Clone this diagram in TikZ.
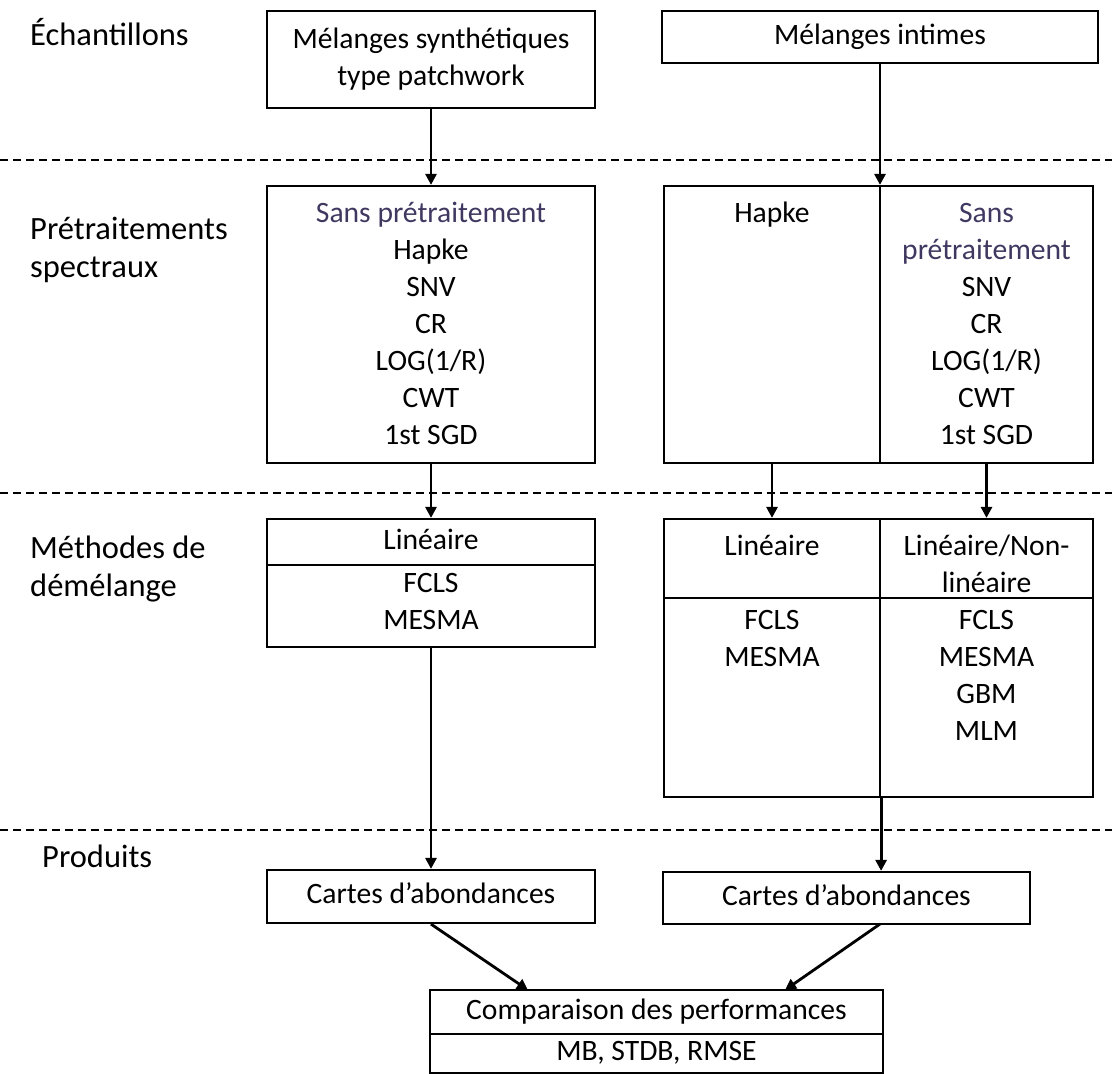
\documentclass[tikz,border=0pt]{standalone}
\usepackage{fontspec}
\setmainfont{Carlito}
\usetikzlibrary{arrows.meta}
\definecolor{sanscol}{RGB}{64,56,96}
\begin{document}
\begin{tikzpicture}[x=1bp,y=-1bp,
  every node/.style={font=\fontsize{29.6bp}{37bp}\selectfont},
  box/.style={draw,line width=2.2bp,inner sep=0pt},
  txt/.style={inner sep=0pt,align=center},
  lbl/.style={inner sep=0pt,align=left,anchor=west,font=\fontsize{32.5bp}{38bp}\selectfont},
  arr/.style={line width=2.8bp,-{Triangle[length=11bp,width=11bp]}},
  dashline/.style={line width=1.8bp,dash pattern=on 8bp off 5bp}
]
\useasboundingbox (0,0) rectangle (1112,1074);
% dashed separators
\draw[dashline] (0,160) -- (1112,160);
\draw[dashline] (0,493) -- (1112,493);
\draw[dashline] (0,830) -- (1112,830);
% labels
\node[lbl] (l1) at (30,38) {\strut \'Echantillons};
\node[lbl] (l2) at (30,251) {\strut Pr\'etraitements\\\strut spectraux};
\node[lbl] (l3) at (30,570) {\strut M\'ethodes de\\\strut d\'em\'elange};
\node[lbl] (l4) at (42,860) {\strut Produits};
% row 1
\node[box,minimum width=328bp,minimum height=97bp] (sA) at (431,59.5) {};
\node[txt] at (sA) {\strut M\'elanges synth\'etiques\\\strut type patchwork};
\node[box,minimum width=436bp,minimum height=52bp] (sB) at (880,37) {};
\node[txt] at (sB) {\strut M\'elanges intimes};
% row 2
\node[box,minimum width=328bp,minimum height=277bp] (pL) at (431,324.5) {};
\node[txt] at (431,326) {\strut\textcolor{sanscol}{Sans pr\'etraitement}\\\strut Hapke\\\strut SNV\\\strut CR\\\strut LOG(1/R)\\\strut CWT\\\strut 1st SGD};
\node[box,minimum width=216bp,minimum height=277bp] (pRa) at (772,324.5) {};
\node[box,minimum width=213bp,minimum height=277bp] (pRb) at (986.5,324.5) {};
\node[txt] at (772,215) {\strut Hapke};
\node[txt] at (986.5,326) {\strut\textcolor{sanscol}{Sans}\\\strut\textcolor{sanscol}{pr\'etraitement}\\\strut SNV\\\strut CR\\\strut LOG(1/R)\\\strut CWT\\\strut 1st SGD};
% row 3
\node[box,minimum width=328bp,minimum height=46bp] (mLh) at (431,542) {};
\node[txt] at (mLh) {\strut Lin\'eaire};
\node[box,minimum width=328bp,minimum height=82bp] (mLb) at (431,606) {};
\node[txt] at (431,604) {\strut FCLS\\\strut MESMA};
\node[box,minimum width=216bp,minimum height=79bp] (mRah) at (772,558.5) {};
\node[box,minimum width=213bp,minimum height=79bp] (mRbh) at (986.5,558.5) {};
\node[box,minimum width=216bp,minimum height=199bp] (mRab) at (772,697.5) {};
\node[box,minimum width=213bp,minimum height=199bp] (mRbb) at (986.5,697.5) {};
\node[txt] at (772,548) {\strut Lin\'eaire};
\node[txt] at (986.5,566.5) {\strut Lin\'eaire/Non-\\\strut lin\'eaire};
\node[txt] at (772,640.5) {\strut FCLS\\\strut MESMA};
\node[txt] at (986.5,677.5) {\strut FCLS\\\strut MESMA\\\strut GBM\\\strut MLM};
% row 4
\node[box,minimum width=328bp,minimum height=53bp] (cL) at (431,896.5) {};
\node[txt] at (cL) {\strut Cartes d’abondances};
\node[box,minimum width=367bp,minimum height=52bp] (cR) at (846.5,898) {};
\node[txt] at (cR) {\strut Cartes d’abondances};
% comparison
\node[box,minimum width=453bp,minimum height=44bp] (kT) at (656.5,1012) {};
\node[txt] at (kT) {\strut Comparaison des performances};
\node[box,minimum width=453bp,minimum height=39bp] (kB) at (656.5,1053.5) {};
\node[txt] at (kB) {\strut MB, STDB, RMSE};
% arrows
\draw[arr] (sA.south) -- (pL.north);
\draw[arr] (sB.south) -- (sB.south |- pRa.north);
\draw[arr] (pL.south) -- (mLh.north);
\draw[arr] (pRa.south) -- (mRah.north);
\draw[arr] (pRb.south) -- (mRbh.north);
\draw[arr] (mLb.south) -- (cL.north);
\draw[arr] (mRab.south east) -- (mRab.south east |- cR.north);
\coordinate (e1) at (528,990);
\coordinate (e2) at (785,990);
\coordinate (s2) at (880,924);
\draw[arr] (cL.south) -- (e1);
\draw[arr] (s2) -- (e2);
\end{tikzpicture}
\end{document}
